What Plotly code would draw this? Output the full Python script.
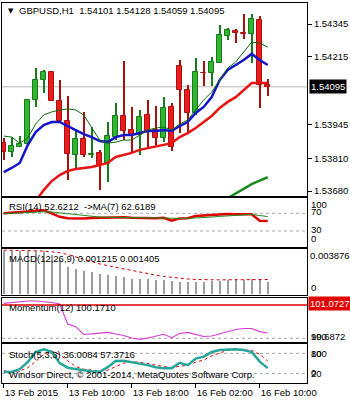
import plotly.graph_objects as go

# ---- GBPUSD H1 bars, 13 Feb 2015 02:00 .. 16 Feb 2015 11:00 ----
opens = [1.53873, 1.53837, 1.53857, 1.53867, 1.54043, 1.54122, 1.54155, 1.54039, 1.53960, 1.53824,
         1.53886, 1.53822, 1.53830, 1.53788, 1.53897, 1.53979, 1.53923, 1.53903, 1.53983, 1.53923,
         1.53893, 1.54013, 1.54178, 1.54082, 1.53990, 1.54151, 1.54149, 1.54191, 1.54297, 1.54318,
         1.54310, 1.54304, 1.54361, 1.54101]
highs = [1.53891, 1.53897, 1.53899, 1.54046, 1.54169, 1.54162, 1.54158, 1.54122, 1.54058, 1.53923,
         1.53994, 1.53936, 1.53844, 1.53955, 1.54029, 1.54198, 1.54013, 1.54003, 1.54043, 1.54019,
         1.54056, 1.54029, 1.54202, 1.54102, 1.54208, 1.54199, 1.54215, 1.54341, 1.54328, 1.54325,
         1.54385, 1.54385, 1.54378, 1.54128]
lows = [1.53804, 1.53817, 1.53855, 1.53859, 1.54016, 1.54072, 1.54039, 1.53959, 1.53724, 1.53764,
        1.53817, 1.53812, 1.53684, 1.53716, 1.53883, 1.53883, 1.53837, 1.53824, 1.53857, 1.53857,
        1.53877, 1.53841, 1.53910, 1.53910, 1.53983, 1.54098, 1.54098, 1.54189, 1.54281, 1.54268,
        1.54284, 1.54189, 1.54009, 1.54059]
closes = [1.53837, 1.53859, 1.53867, 1.54043, 1.54122, 1.54153, 1.54039, 1.53960, 1.53828, 1.53886,
          1.53824, 1.53828, 1.53784, 1.53899, 1.53979, 1.53920, 1.53903, 1.53974, 1.53916, 1.53890,
          1.54009, 1.53857, 1.54082, 1.53990, 1.54155, 1.54149, 1.54195, 1.54301, 1.54321, 1.54308,
          1.54304, 1.54364, 1.54101, 1.54095]

# moving averages on price
ma_fast = [1.53899, 1.53895, 1.53871, 1.53891, 1.53947, 1.53983, 1.53995, 1.54003, 1.54007, 1.54003,
           1.53983, 1.53935, 1.53883, 1.53871, 1.53875, 1.53883, 1.53883, 1.53903, 1.53923, 1.53931,
           1.53935, 1.53923, 1.53947, 1.53963, 1.54003, 1.54043, 1.54074, 1.54122, 1.54170, 1.54194,
           1.54234, 1.54273, 1.54269, 1.54253]
ma_mid = [1.53756, 1.53772, 1.53792, 1.53863, 1.53915, 1.53943, 1.53955, 1.53955, 1.53939, 1.53923,
          1.53907, 1.53895, 1.53879, 1.53875, 1.53895, 1.53903, 1.53903, 1.53911, 1.53919, 1.53919,
          1.53923, 1.53919, 1.53939, 1.53955, 1.53991, 1.54015, 1.54054, 1.54122, 1.54162, 1.54182,
          1.54202, 1.54226, 1.54202, 1.54182]
ma_slow = [None, None, None, 1.53597, 1.53641, 1.53684, 1.53720, 1.53744, 1.53760, 1.53768,
           1.53772, 1.53776, 1.53784, 1.53792, 1.53816, 1.53824, 1.53832, 1.53844, 1.53851, 1.53855,
           1.53863, 1.53871, 1.53895, 1.53911, 1.53931, 1.53955, 1.53979, 1.54011, 1.54035, 1.54054,
           1.54082, 1.54110, 1.54110, 1.54110]
ma_long = [None] * 28 + [1.53652, 1.53670, 1.53688, 1.53708, 1.53722, 1.53735]

# RSI(14) and its MA(7)
rsi = [70, 71, 72.5, 74, 76, 77, 70, 62, 59, 58.5, 58.5, 59.5, 60, 61, 61.5, 61, 60, 59, 58.7, 58.7,
       60, 53.5, 58.5, 59, 64, 65.5, 66, 67.5, 68.4, 68, 67.7, 67.7, 53, 52.6212]
rsi_ma = [69, 70, 71, 72, 73, 73.5, 73, 71, 68, 66, 64, 62.5, 61.5, 61, 60.5, 60.5, 60.5, 60, 59.8, 59.5,
          59.5, 58.5, 58.5, 58.5, 59, 60, 61.5, 63, 64.5, 66, 67, 67.5, 65, 62.6189]

# MACD(12,26,9)
macd_main = [0.00440, 0.00440, 0.00440, 0.00440, 0.00440, 0.00435, 0.00395, 0.00343, 0.00275, 0.00251,
             0.00230, 0.00223, 0.00206, 0.00196, 0.00182, 0.00172, 0.00155, 0.00155, 0.00148, 0.00144,
             0.00137, 0.00130, 0.00120, 0.00120, 0.00120, 0.00120, 0.00127, 0.00127, 0.00137, 0.00155,
             0.00144, 0.00155, 0.00155, 0.001215]
macd_signal = [0.00440, 0.00440, 0.00438, 0.00436, 0.00434, 0.00430, 0.00425, 0.00415, 0.00395, 0.00370,
               0.00345, 0.00320, 0.00300, 0.00282, 0.00265, 0.00248, 0.00230, 0.00212, 0.00198, 0.00185,
               0.00172, 0.00162, 0.00153, 0.00146, 0.00141, 0.00138, 0.00137, 0.00137, 0.00138, 0.00139,
               0.00140, 0.00141, 0.00141, 0.001405]
macd_max_label = 0.003876

# Momentum(12)
momentum = [101.128, 101.160, 101.186, 101.202, 101.202, 101.186, 101.153, 101.105, 100.460, 100.374,
            100.122, 100.139, 100.171, 100.187, 100.139, 100.090, 100.010, 99.968, 100.010, 100.074,
            100.129, 100.019, 100.155, 100.193, 100.122, 100.058, 100.074, 100.139, 100.203, 100.284,
            100.316, 100.316, 100.213, 100.1710]
momentum_line = 101.0727
momentum_min = 99.6872

# Stochastic(5,3,3)
stoch_main = [24.8, 24.8, 33, 54, 84, 92, 85, 51, 37.4, 33, 30, 27, 25.4, 39, 57, 58, 54, 50, 45, 39,
              36, 36, 52, 45, 64.4, 70.4, 84, 90, 92, 92, 90, 84, 55.4, 36.0084]
stoch_signal = [28, 26, 28, 37, 56, 77, 87, 76, 58, 41, 33, 30, 27, 30, 40, 51, 56, 54, 50, 45,
                40, 37, 42, 44, 54, 60, 73, 81, 89, 91, 91, 89, 77, 57.3716]

# axis labels
time_tick_bars = [0, 8, 16, 24, 32]
time_tick_text = ["13 Feb 2015", "13 Feb 10:00", "13 Feb 18:00", "16 Feb 02:00", "16 Feb 10:00"]
price_ticks = [1.54345, 1.54215, 1.53945, 1.53810, 1.53680]
rsi_levels = [70, 30]
stoch_levels = [80, 20]

bars = list(range(len(opens)))
last_price = closes[-1]

FONT = "Liberation Sans"
FS = 9.5
UP_FILL, UP_EDGE = "#2FB52F", "#197A19"
DN_FILL, DN_EDGE = "#EC1C1C", "#A81010"

up = [c >= o for o, c in zip(opens, closes)]

fig = go.Figure()

# ---------- main price panel ----------
fig.add_trace(go.Bar(
    x=bars, y=[h - l for h, l in zip(highs, lows)], base=lows, width=0.13,
    marker=dict(color=[UP_EDGE if u else DN_EDGE for u in up], line=dict(width=0)),
    xaxis="x", yaxis="y", hoverinfo="skip"))
fig.add_trace(go.Bar(
    x=bars, y=[abs(c - o) for o, c in zip(opens, closes)],
    base=[min(o, c) for o, c in zip(opens, closes)], width=0.56,
    marker=dict(color=[UP_FILL if u else DN_FILL for u in up],
                line=dict(color=[UP_EDGE if u else DN_EDGE for u in up], width=1)),
    xaxis="x", yaxis="y"))

fig.add_trace(go.Scatter(x=bars, y=ma_long, mode="lines", line=dict(color="#1A8A1A", width=2.5),
                         xaxis="x", yaxis="y"))
fig.add_trace(go.Scatter(x=bars, y=ma_slow, mode="lines", line=dict(color="#E81414", width=2.5),
                         xaxis="x", yaxis="y"))
fig.add_trace(go.Scatter(x=bars, y=ma_mid, mode="lines", line=dict(color="#1414C8", width=2.5),
                         xaxis="x", yaxis="y"))
fig.add_trace(go.Scatter(x=bars, y=ma_fast, mode="lines", line=dict(color="#0A6E0A", width=1),
                         xaxis="x", yaxis="y"))

# ---------- RSI panel ----------
fig.add_trace(go.Scatter(x=bars, y=rsi, mode="lines", line=dict(color="#E00000", width=2.5),
                         xaxis="x2", yaxis="y2"))
fig.add_trace(go.Scatter(x=bars, y=rsi_ma, mode="lines", line=dict(color="#1E8C1E", width=1),
                         xaxis="x2", yaxis="y2"))

# ---------- MACD panel ----------
fig.add_trace(go.Bar(x=bars, y=macd_main, width=0.13, marker=dict(color="#9C9C9C", line=dict(width=0)),
                     xaxis="x3", yaxis="y3"))
fig.add_trace(go.Scatter(x=bars, y=macd_signal, mode="lines",
                         line=dict(color="#D00000", width=1, dash="3px,3px"), xaxis="x3", yaxis="y3"))

# ---------- Momentum panel ----------
fig.add_trace(go.Scatter(x=bars, y=momentum, mode="lines", line=dict(color="#D63CD6", width=1.2),
                         xaxis="x4", yaxis="y4"))

# ---------- Stochastic panel ----------
fig.add_trace(go.Scatter(x=bars, y=stoch_signal, mode="lines",
                         line=dict(color="#F00000", width=1, dash="3px,3px"), xaxis="x5", yaxis="y5"))
fig.add_trace(go.Scatter(x=bars, y=stoch_main, mode="lines", line=dict(color="#26A69A", width=2.5),
                         xaxis="x5", yaxis="y5"))

# ---------- layout ----------
x_range = [-0.2125, 37.9125]
panels = {
    "y":  dict(domain=[0.4921, 1.0], range=[1.536605, 1.544286]),
    "y2": dict(domain=[0.3579, 0.4868], range=[-6.2, 104.6]),
    "y3": dict(domain=[0.2303, 0.3539], range=[-0.000224, 0.00457]),
    "y4": dict(domain=[0.1087, 0.2229], range=[99.890, 101.289]),
    "y5": dict(domain=[0.0, 0.1026], range=[-8.2, 107.9]),
}

layout = dict(
    width=350, height=400,
    margin=dict(l=2, r=43, t=3, b=17, autoexpand=False),
    paper_bgcolor="white", plot_bgcolor="white",
    showlegend=False, barmode="overlay", bargap=0,
    font=dict(family=FONT, size=FS, color="black"),
)

for i, (yname, spec) in enumerate(panels.items(), start=1):
    xname = "xaxis" if i == 1 else f"xaxis{i}"
    yax = "yaxis" if i == 1 else f"yaxis{i}"
    layout[xname] = dict(
        anchor=yname, range=x_range, showline=True, mirror=True, linecolor="black", linewidth=1,
        showgrid=False, zeroline=False, showticklabels=False, ticks="", fixedrange=True,
        automargin=False,
    )
    layout[yax] = dict(
        anchor="x" if i == 1 else f"x{i}", domain=spec["domain"], range=spec["range"],
        side="right", showline=True, mirror=True, linecolor="black", linewidth=1,
        showgrid=False, zeroline=False, showticklabels=False, ticks="", automargin=False,
    )

layout["yaxis"].update(
    showticklabels=True, tickvals=price_ticks, ticktext=[f"{v:.5f}" for v in price_ticks],
    ticks="outside", ticklen=4, tickcolor="black", tickfont=dict(family=FONT, size=FS, color="black"),
)
layout["xaxis5"].update(
    showticklabels=True, tickvals=time_tick_bars, ticktext=time_tick_text, tickangle=0,
    ticks="outside", ticklen=4, tickcolor="black", ticklabelposition="outside right",
    ticklabelstandoff=1, tickfont=dict(family=FONT, size=FS, color="black"),
)

shapes = [
    dict(type="line", xref="x domain", x0=0, x1=1, yref="y", y0=last_price, y1=last_price,
         line=dict(color="#B8B8B8", width=1), layer="below"),
    dict(type="line", xref="x4 domain", x0=0, x1=1, yref="y4", y0=momentum_line, y1=momentum_line,
         line=dict(color="#E00000", width=1.5)),
    dict(type="line", xref="x4 domain", x0=0, x1=1, yref="y4", y0=100, y1=100,
         line=dict(color="#A0A0A0", width=1, dash="3px,3px"), layer="below"),
]
for lv in rsi_levels:
    shapes.append(dict(type="line", xref="x2 domain", x0=0, x1=1, yref="y2", y0=lv, y1=lv,
                       line=dict(color="#A8A8A8", width=1, dash="3px,3px"), layer="below"))
for lv in stoch_levels:
    shapes.append(dict(type="line", xref="x5 domain", x0=0, x1=1, yref="y5", y0=lv, y1=lv,
                       line=dict(color="#A8A8A8", width=1, dash="3px,3px"), layer="below"))
layout["shapes"] = shapes


def left_note(text, yref, shift, xshift=4.5):
    return dict(text=text, xref="paper", x=0, xanchor="left", xshift=xshift,
                yref=yref, y=1, yanchor="middle", yshift=shift, showarrow=False,
                font=dict(family=FONT, size=FS, color="black"))


def right_note(text, yref, y, shift=0, **kw):
    d = dict(text=text, xref="paper", x=1, xanchor="left", xshift=2,
             yref=yref, y=y, yanchor="middle", yshift=shift, showarrow=False,
             font=dict(family=FONT, size=FS, color=kw.pop("color", "black")))
    d.update(kw)
    return d


annotations = [
    dict(text="▼", xref="paper", x=0, xanchor="left", xshift=3.5, yref="paper", y=1,
         yanchor="middle", yshift=-7.5, showarrow=False, font=dict(family="DejaVu Sans", size=7, color="black")),
    left_note(f"GBPUSD,H1\u00a0 {opens[-1]:.5f} {highs[-1]:.5f} {lows[-1]:.5f} {closes[-1]:.5f}",
              "paper", -7.5, xshift=15),
    left_note(f"RSI(14) {rsi[-1]:.4f}\u00a0 ->MA(7) {rsi_ma[-1]:.4f}", "y2 domain", -8),
    left_note(f"MACD(12,26,9) {macd_main[-1]:.6f} {macd_signal[-1]:.6f}", "y3 domain", -10),
    left_note(f"Momentum(12) {momentum[-1]:.4f}", "y4 domain", -9.5),
    left_note(f"Stoch(5,3,3) {stoch_main[-1]:.4f} {stoch_signal[-1]:.4f}", "y5 domain", -10),
    dict(text="Windsor Direct, © 2001-2014, MetaQuotes Software Corp.", xref="paper", x=0,
         xanchor="left", xshift=4.5, yref="y5 domain", y=0, yanchor="middle", yshift=8.5,
         showarrow=False, font=dict(family=FONT, size=FS, color="black")),
    # current price box
    right_note(f"{last_price:.5f}", "y", last_price, 0, color="white",
               bgcolor="black", borderpad=1),
    # RSI scale
    right_note("100", "y2", 100, -4.3),
    right_note("70", "y2", 70, 1.6),
    right_note("30", "y2", 30, 1.7),
    right_note("0", "y2", 0, 6),
    # MACD scale
    right_note(f"{macd_max_label:.6f}", "y3", macd_max_label, 0, xshift=1),
    right_note("0", "y3", 0, 5.3),
    # Momentum scale
    right_note(f"{momentum_line:.4f}", "y4", momentum_line, 1.5, color="white",
               bgcolor="#E00000", borderpad=1, xshift=1),
    right_note(f"{momentum_min:.4f}", "y4", 100, 1.6),
    right_note("100", "y4", 100, 1.6),
    # Stochastic scale
    right_note("100", "y5", 80, 0),
    right_note("80", "y5", 80, 0),
    right_note("20", "y5", 20, 0),
    right_note("0", "y5", 20, 1),
]
layout["annotations"] = annotations

fig.update_layout(**layout)
fig.write_html("out.html")
